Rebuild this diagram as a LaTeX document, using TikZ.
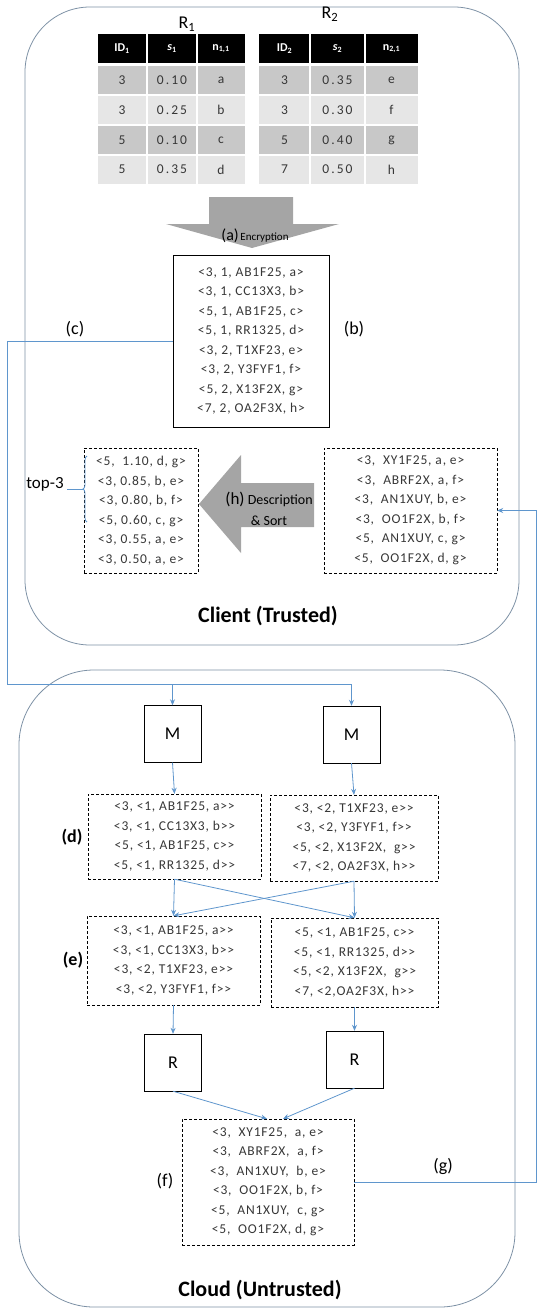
\documentclass[tikz,border=0pt]{standalone}
\usepackage{fontspec}
\setmainfont{Carlito}
\newfontfamily\recfont[LetterSpace=6]{Carlito}
\newfontfamily\tabfont[LetterSpace=15]{Carlito}
\usetikzlibrary{arrows.meta, decorations.pathreplacing}
\definecolor{flowblue}{RGB}{95,150,205}
\definecolor{zonegray}{RGB}{125,145,165}
\definecolor{rowdark}{RGB}{200,200,200}
\definecolor{rowlight}{RGB}{230,230,230}
\definecolor{arrowgray}{RGB}{165,165,165}
\definecolor{textgray}{RGB}{55,55,55}
\tikzset{
    zone/.style={draw=zonegray, line width=0.8pt, rounded corners=#1}, % client / cloud area
    recbox/.style={draw, thin, inner sep=0pt, align=center, text=textgray, font=\recfont\fontsize{13.5}{19.5}\selectfont}, % list of records
    dashbox/.style={recbox, dash pattern=on 3pt off 2pt},
    opbox/.style={draw, thin, inner sep=0pt, minimum width=57pt, minimum height=57pt, font=\fontsize{18}{20}\selectfont}, % M and R
    flow/.style={draw=flowblue, line width=0.8pt},
    flowarrow/.style={flow, -{Stealth[length=6pt, width=5pt]}},
    steplabel/.style={font=\fontsize{18}{20}\selectfont},
    hdr/.style={text=white, font=\bfseries\fontsize{12}{14}\selectfont}, % table header
    cell/.style={text=textgray, font=\tabfont\fontsize{13.5}{15}\selectfont},
    blockarrow/.style={fill=arrowgray}
}

\begin{document}
\begin{tikzpicture}[x=1pt, y=-1pt]
    \useasboundingbox (0,0) rectangle (537,1308);

    % client and cloud
    \draw[zone=65pt] (25,7) rectangle (519,645);
    \draw[zone=75pt] (19,670) rectangle (515,1307);
    \node[font=\bfseries\fontsize{22}{24}\selectfont] (client) at (268,616) {Client (Trusted)};
    \node[font=\bfseries\fontsize{22}{24}\selectfont] (cloud) at (260,1290) {Cloud (Untrusted)};

    % tables R1 and R2
    \foreach \xa/\xb/\xc/\xd in {97.6/147/197/245, 259/310/365/418} {
        \fill[black] (\xa,34) rectangle (\xd,63);
        \foreach \i in {1,...,4} {
            \ifodd\i \def\rowcol{rowdark}\else\def\rowcol{rowlight}\fi
            \fill[\rowcol] (\xa,{66.5+(\i-1)*29.7}) rectangle (\xd,{94.5+(\i-1)*29.7});
        }
        \draw[white, line width=1.5pt] (\xb,34) -- (\xb,185) (\xc,34) -- (\xc,185);
    }
    \node[font=\fontsize{18}{20}\selectfont] (rone) at (187,24) {R\textsubscript{1}};
    \node[font=\fontsize{18}{20}\selectfont] (rtwo) at (330,14) {R\textsubscript{2}};
    \node[hdr] (hida) at (122,48.5) {ID\textsubscript{1}};
    \node[hdr] (hsa) at (172,48.5) {\textit{s}\textsubscript{1}};
    \node[hdr] (hna) at (221,48.5) {n\textsubscript{1,1}};
    \node[hdr] (hidb) at (284.5,48.5) {ID\textsubscript{2}};
    \node[hdr] (hsb) at (337.5,48.5) {\textit{s}\textsubscript{2}};
    \node[hdr] (hnb) at (391.5,48.5) {n\textsubscript{2,1}};
    \foreach \idv/\sv/\nv [count=\i] in {3/0.10/a, 3/0.25/b, 5/0.10/c, 5/0.35/d} {
        \node[cell] (ida\i) at (122,{80.5+(\i-1)*29.7}) {\idv};
        \node[cell] (sa\i) at (172,{80.5+(\i-1)*29.7}) {\sv};
        \node[cell] (na\i) at (221,{80.5+(\i-1)*29.7}) {\nv};
    }
    \foreach \idv/\sv/\nv [count=\i] in {3/0.35/e, 3/0.30/f, 5/0.40/g, 7/0.50/h} {
        \node[cell] (idb\i) at (284.5,{80.5+(\i-1)*29.7}) {\idv};
        \node[cell] (sb\i) at (337.5,{80.5+(\i-1)*29.7}) {\sv};
        \node[cell] (nb\i) at (391.5,{80.5+(\i-1)*29.7}) {\nv};
    }

    % (a) encryption
    \fill[blockarrow] (209,197) -- (293,197) -- (293,224) -- (339,224) -- (252,248) -- (166,224) -- (209,224) -- cycle;
    \node (enctext) at (255,236) {{\fontsize{16}{18}\selectfont(a)}\,{\fontsize{11}{13}\selectfont Encryption}};

    \node[recbox, minimum width=156pt, minimum height=172pt] (encbox) at (251,341) {<3, 1, AB1F25, a>\\<3, 1, CC13X3, b>\\<5, 1, AB1F25, c>\\<5, 1, RR1325, d>\\<3, 2, T1XF23, e>\\<3, 2, Y3FYF1, f>\\<5, 2, X13F2X, g>\\<7, 2, OA2F3X, h>};
    \node[steplabel] (lb) at (354,329) {(b)};
    \node[steplabel] (lc) at (75,329) {(c)};

    % (h) decryption and sort
    \node[dashbox, minimum width=114pt, minimum height=125pt] (topk) at (141,510.5) {<5,~ 1.10, d, g>\\<3, 0.85, b, e>\\<3, 0.80, b, f>\\<5, 0.60, c, g>\\<3, 0.55, a, e>\\<3, 0.50, a, e>};
    \node[dashbox, minimum width=173pt, minimum height=125pt] (decbox) at (410.5,510.5) {<3,~ XY1F25, a, e>\\<3,~ ABRF2X, a, f>\\<3,~ AN1XUY, b, e>\\<3,~ OO1F2X, b, f>\\<5,~ AN1XUY, c, g>\\<5,~ OO1F2X, d, g>};
    \fill[blockarrow] (314,483) -- (241,483) -- (241,455) -- (199,504) -- (241,553) -- (241,527) -- (314,527) -- cycle;
    \node[align=center, font=\fontsize{14}{21}\selectfont] (dectext) at (269,508.5) {{\fontsize{17}{21}\selectfont(h)} Description\\\& Sort};
    \draw[flow, decorate, decoration={brace, amplitude=4pt}] (87,522) -- (87,456);
    \node[font=\fontsize{17}{19}\selectfont] (topthree) at (45,484) {top-3};
    \coordinate (bracetip) at (83,489);
    \draw[flow] (bracetip) -- (topthree.east |- bracetip);

    % map
    \node[opbox] (mapL) at (172.5,734) {M};
    \node[opbox] (mapR) at (351.5,734.5) {M};
    \node[dashbox, minimum width=173pt, minimum height=85pt] (mapoutL) at (174.5,836.5) {<3, <1, AB1F25, a>>\\<3, <1, CC13X3, b>>\\<5, <1, AB1F25, c>>\\<5, <1, RR1325, d>>};
    \node[dashbox, minimum width=168pt, minimum height=86pt] (mapoutR) at (354,838) {<3, <2, T1XF23, e>>\\<3, <2, Y3FYF1, f>>\\<5, <2, X13F2X,~ g>>\\<7, <2, OA2F3X, h>>};
    \node[steplabel, font=\bfseries\fontsize{18}{20}\selectfont] (ld) at (72,837) {(d)};

    % shuffle
    \node[dashbox, minimum width=173pt, minimum height=89pt] (shufL) at (173.5,960.5) {<3, <1, AB1F25, a>>\\<3, <1, CC13X3, b>>\\<3, <2, T1XF23, e>>\\<3, <2, Y3FYF1, f>>};
    \node[dashbox, minimum width=167pt, minimum height=89pt] (shufR) at (354.5,962.5) {<5, <1, AB1F25, c>>\\<5, <1, RR1325, d>>\\<5, <2, X13F2X,~ g>>\\<7, <2,OA2F3X, h>>};
    \node[steplabel, font=\bfseries\fontsize{18}{20}\selectfont] (le) at (73,960) {(e)};

    % reduce
    \node[opbox] (redL) at (173,1062.5) {R};
    \node[opbox] (redR) at (354.5,1059.5) {R};
    \node[dashbox, minimum width=172pt, minimum height=126pt] (result) at (268,1182) {<3,~ XY1F25,~ a, e>\\<3,~ ABRF2X,~ a, f>\\<3,~ AN1XUY,~ b, e>\\<3,~ OO1F2X, b, f>\\<5,~ AN1XUY,~ c, g>\\<5,~ OO1F2X, d, g>};
    \node[steplabel] (lf) at (165,1181) {(f)};
    \node[steplabel] (lg) at (443,1166) {(g)};

    % connectors
    \coordinate (cleft) at (7,684.5);
    \coordinate (gright) at (536,1182);
    \draw[flowarrow] (encbox.west) -| (cleft) -| (mapR.north);
    \draw[flowarrow] (mapL.north |- cleft) -- (mapL.north);
    \draw[flowarrow] (mapL.south) -- (mapoutL.north);
    \draw[flowarrow] (mapR.south) -- (mapoutR.north);
    \foreach \a in {mapoutL, mapoutR} {\foreach \b in {shufL, shufR} {\draw[flowarrow] (\a.south) -- (\b.north);}}
    \draw[flowarrow] (shufL.south) -- (redL.north);
    \draw[flowarrow] (shufR.south) -- (redR.north);
    \draw[flowarrow] (redL.south) -- ([xshift=-1pt]result.north);
    \draw[flowarrow] (redR.south) -- ([xshift=15pt]result.north);
    \draw[flowarrow] (result.east) -- (gright) |- (decbox.east);
\end{tikzpicture}
\end{document}
